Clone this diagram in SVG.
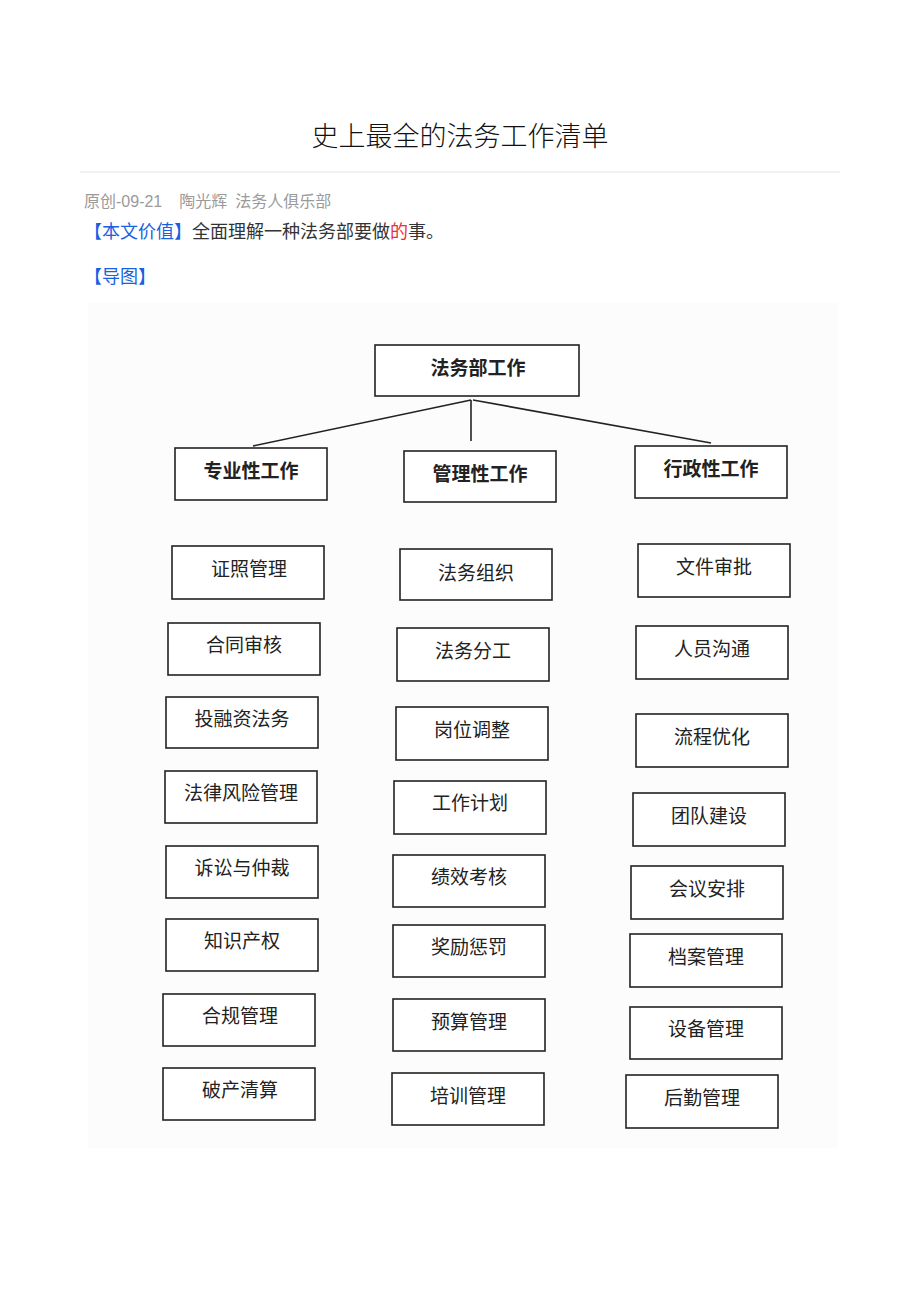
<svg xmlns="http://www.w3.org/2000/svg" width="920" height="1302" viewBox="0 0 920 1302">
<style>
text{font-family:"Liberation Sans","Noto Sans CJK SC",sans-serif}
.t{font-family:"Noto Sans CJK SC",sans-serif;font-size:19px;fill:#222;text-anchor:middle}
.b{font-weight:bold}
.box{fill:#fff;stroke:#222;stroke-width:1.6}
.ln{stroke:#222;stroke-width:1.6;fill:none}
.blue{fill:#1a5fe0}
</style>
<rect width="920" height="1302" fill="#fff"/>
<g id="header">
<text x="460" y="146" style="font-family:'Noto Sans CJK SC',sans-serif;font-size:27px;fill:#111;font-weight:300" text-anchor="middle">史上最全的法务工作清单</text>
<line x1="80" y1="172" x2="840" y2="172" stroke="#e6e6e6" stroke-width="1.2"/>
<text x="84" y="207" style="font-size:16px;fill:#9a9a9a">原创-09-21<tspan dx="17">陶光辉</tspan><tspan dx="8">法务人俱乐部</tspan></text>
<text x="84" y="238" style="font-family:'Noto Sans CJK SC',sans-serif;font-size:18px;fill:#333"><tspan class="blue">【本文价值】</tspan>全面理解一种法务部要做<tspan fill="#e8303a">的</tspan>事。</text>
<text x="84" y="283" style="font-family:'Noto Sans CJK SC',sans-serif;font-size:18px" class="blue">【导图】</text>
</g>
<rect x="88" y="303" width="750" height="845" fill="#fcfcfc"/>
<g id="connectors">
<line class="ln" x1="471" y1="400" x2="253" y2="446"/>
<line class="ln" x1="471" y1="400" x2="471" y2="441"/>
<line class="ln" x1="473" y1="400" x2="711" y2="443"/>
</g>
<g id="n-root"><rect class="box" x="375" y="345" width="204" height="51"/><text class="t b" x="478" y="375">法务部工作</text></g>
<g id="n-zy"><rect class="box" x="175" y="448" width="152" height="52"/><text class="t b" x="251" y="478">专业性工作</text></g>
<g id="n-gl"><rect class="box" x="404" y="451" width="152" height="51"/><text class="t b" x="480" y="481">管理性工作</text></g>
<g id="n-xz"><rect class="box" x="635" y="446" width="152" height="52"/><text class="t b" x="711" y="476">行政性工作</text></g>

<g id="l1"><rect class="box" x="172" y="546" width="152" height="53"/><text class="t" x="249" y="576">证照管理</text></g>
<g id="l2"><rect class="box" x="168" y="623" width="152" height="52"/><text class="t" x="244" y="652">合同审核</text></g>
<g id="l3"><rect class="box" x="166" y="697" width="152" height="51"/><text class="t" x="242" y="726">投融资法务</text></g>
<g id="l4"><rect class="box" x="165" y="771" width="152" height="52"/><text class="t" x="241" y="800">法律风险管理</text></g>
<g id="l5"><rect class="box" x="166" y="846" width="152" height="52"/><text class="t" x="242" y="875">诉讼与仲裁</text></g>
<g id="l6"><rect class="box" x="166" y="919" width="152" height="52"/><text class="t" x="242" y="948">知识产权</text></g>
<g id="l7"><rect class="box" x="163" y="994" width="152" height="52"/><text class="t" x="240" y="1023">合规管理</text></g>
<g id="l8"><rect class="box" x="163" y="1068" width="152" height="52"/><text class="t" x="240" y="1097">破产清算</text></g>

<g id="m1"><rect class="box" x="400" y="549" width="152" height="51"/><text class="t" x="476" y="580">法务组织</text></g>
<g id="m2"><rect class="box" x="397" y="628" width="152" height="53"/><text class="t" x="473" y="658">法务分工</text></g>
<g id="m3"><rect class="box" x="396" y="707" width="152" height="53"/><text class="t" x="472" y="737">岗位调整</text></g>
<g id="m4"><rect class="box" x="394" y="781" width="152" height="53"/><text class="t" x="470" y="810">工作计划</text></g>
<g id="m5"><rect class="box" x="393" y="855" width="152" height="52"/><text class="t" x="469" y="884">绩效考核</text></g>
<g id="m6"><rect class="box" x="393" y="925" width="152" height="52"/><text class="t" x="469" y="954">奖励惩罚</text></g>
<g id="m7"><rect class="box" x="393" y="999" width="152" height="52"/><text class="t" x="469" y="1029">预算管理</text></g>
<g id="m8"><rect class="box" x="392" y="1073" width="152" height="52"/><text class="t" x="468" y="1103">培训管理</text></g>

<g id="r1"><rect class="box" x="638" y="544" width="152" height="53"/><text class="t" x="714" y="574">文件审批</text></g>
<g id="r2"><rect class="box" x="636" y="626" width="152" height="53"/><text class="t" x="712" y="656">人员沟通</text></g>
<g id="r3"><rect class="box" x="636" y="714" width="152" height="53"/><text class="t" x="712" y="744">流程优化</text></g>
<g id="r4"><rect class="box" x="633" y="793" width="152" height="53"/><text class="t" x="709" y="823">团队建设</text></g>
<g id="r5"><rect class="box" x="631" y="866" width="152" height="53"/><text class="t" x="707" y="896">会议安排</text></g>
<g id="r6"><rect class="box" x="630" y="934" width="152" height="53"/><text class="t" x="706" y="964">档案管理</text></g>
<g id="r7"><rect class="box" x="630" y="1007" width="152" height="52"/><text class="t" x="706" y="1036">设备管理</text></g>
<g id="r8"><rect class="box" x="626" y="1075" width="152" height="53"/><text class="t" x="702" y="1105">后勤管理</text></g>
</svg>
